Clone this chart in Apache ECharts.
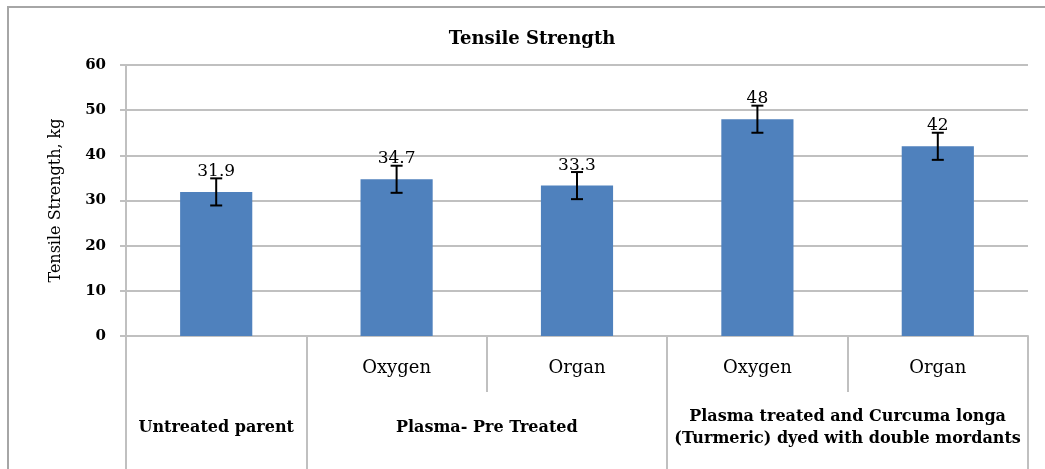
<!DOCTYPE html>
<html>
<head>
<meta charset="utf-8">
<script src="https://cdn.jsdelivr.net/npm/echarts@6/dist/echarts.min.js"></script>
<style>
  html, body { margin: 0; padding: 0; background: #fff; }
  #chart { width: 1045px; height: 469px; }
</style>
</head>
<body>
<div id="chart"></div>
<script>
// values
const gases = ['', 'Oxygen', 'Organ', 'Oxygen', 'Organ'];
const groups = [
  'Untreated parent',
  'Plasma- Pre Treated',
  'Plasma treated and Curcuma longa\n(Turmeric) dyed with double mordants',
];
const groupSpans = [1, 2, 2]; // how many bars each group covers
const strength = [31.9, 34.7, 33.3, 48, 42];
const errors = [3, 3, 3, 3, 3];
const yTicks = [0, 10, 20, 30, 40, 50, 60];

// the original is a wide serif, DejaVu Serif is the closest thing here
const FONT = 'DejaVu Serif';
const GRID_COLOR = '#c0c0c0';

// group axis uses half-bar slots so a label can sit between two bars
const halfSlots = [];
const groupEdges = [0];
let start = 0;
for (let i = 0; i <= gases.length * 2; i++) halfSlots.push('');
groups.forEach((g, i) => {
  halfSlots[start * 2 + groupSpans[i]] = g;
  start += groupSpans[i];
  groupEdges.push(start * 2);
});

const errData = strength.map((v, i) => [i, v - errors[i], v + errors[i]]);

const chart = echarts.init(document.getElementById('chart'));
chart.setOption({
  animation: false,
  backgroundColor: '#fff',
  title: {
    text: 'Tensile Strength',
    left: 532,
    top: 30,
    textAlign: 'center',
    padding: 0,
    textStyle: { fontFamily: FONT, fontSize: 18, fontWeight: 'bold', color: '#000' },
  },
  graphic: [
    {
      type: 'rect',
      shape: { x: 8, y: 7, width: 1200, height: 600 },
      style: { fill: null, stroke: '#a6a6a6', lineWidth: 2 },
      silent: true,
    },
  ],
  grid: { left: 126, right: 17, top: 65, bottom: 133 },
  xAxis: [
    {
      type: 'category',
      data: gases,
      position: 'bottom',
      axisLine: { onZero: false, lineStyle: { color: GRID_COLOR, width: 2 } },
      axisTick: { show: true, length: 56, interval: 0, lineStyle: { color: GRID_COLOR, width: 2 } },
      axisLabel: {
        interval: 0,
        margin: 23,
        fontFamily: FONT,
        fontSize: 18,
        color: '#000',
      },
    },
    {
      type: 'category',
      data: halfSlots,
      position: 'bottom',
      boundaryGap: false,
      axisLine: { show: false, onZero: false },
      axisTick: {
        show: true,
        length: 140,
        interval: (idx) => groupEdges.includes(idx),
        lineStyle: { color: GRID_COLOR, width: 2 },
      },
      axisLabel: {
        interval: 0,
        margin: 92,
        verticalAlign: 'middle',
        lineHeight: 22,
        fontFamily: FONT,
        fontSize: 16,
        fontWeight: 'bold',
        color: '#000',
      },
    },
  ],
  yAxis: {
    type: 'value',
    min: yTicks[0],
    max: yTicks[yTicks.length - 1],
    interval: 10,
    name: 'Tensile Strength, kg',
    nameLocation: 'middle',
    nameGap: 62,
    nameTextStyle: { fontFamily: FONT, fontSize: 16, color: '#000' },
    axisLine: { show: true, lineStyle: { color: GRID_COLOR, width: 2 } },
    axisTick: { show: true, length: 6, lineStyle: { color: GRID_COLOR, width: 2 } },
    axisLabel: { margin: 20, fontFamily: FONT, fontSize: 15, fontWeight: 'bold', color: '#000' },
    splitLine: { lineStyle: { color: GRID_COLOR, width: 2 } },
  },
  series: [
    {
      type: 'bar',
      data: strength,
      barWidth: '40%',
      itemStyle: { color: '#4F81BD' },
      label: {
        show: true,
        position: 'top',
        distance: 12,
        fontFamily: FONT,
        fontSize: 17,
        color: '#000',
      },
    },
    {
      type: 'custom',
      data: errData,
      z: 3,
      renderItem: (params, api) => {
        const lo = api.coord([api.value(0), api.value(1)]);
        const hi = api.coord([api.value(0), api.value(2)]);
        const half = 6;
        const style = { stroke: '#000', lineWidth: 2 };
        return {
          type: 'group',
          children: [
            { type: 'line', shape: { x1: lo[0], y1: lo[1], x2: hi[0], y2: hi[1] }, style },
            { type: 'line', shape: { x1: lo[0] - half, y1: lo[1], x2: lo[0] + half, y2: lo[1] }, style },
            { type: 'line', shape: { x1: hi[0] - half, y1: hi[1], x2: hi[0] + half, y2: hi[1] }, style },
          ],
        };
      },
    },
  ],
});
</script>
</body>
</html>
